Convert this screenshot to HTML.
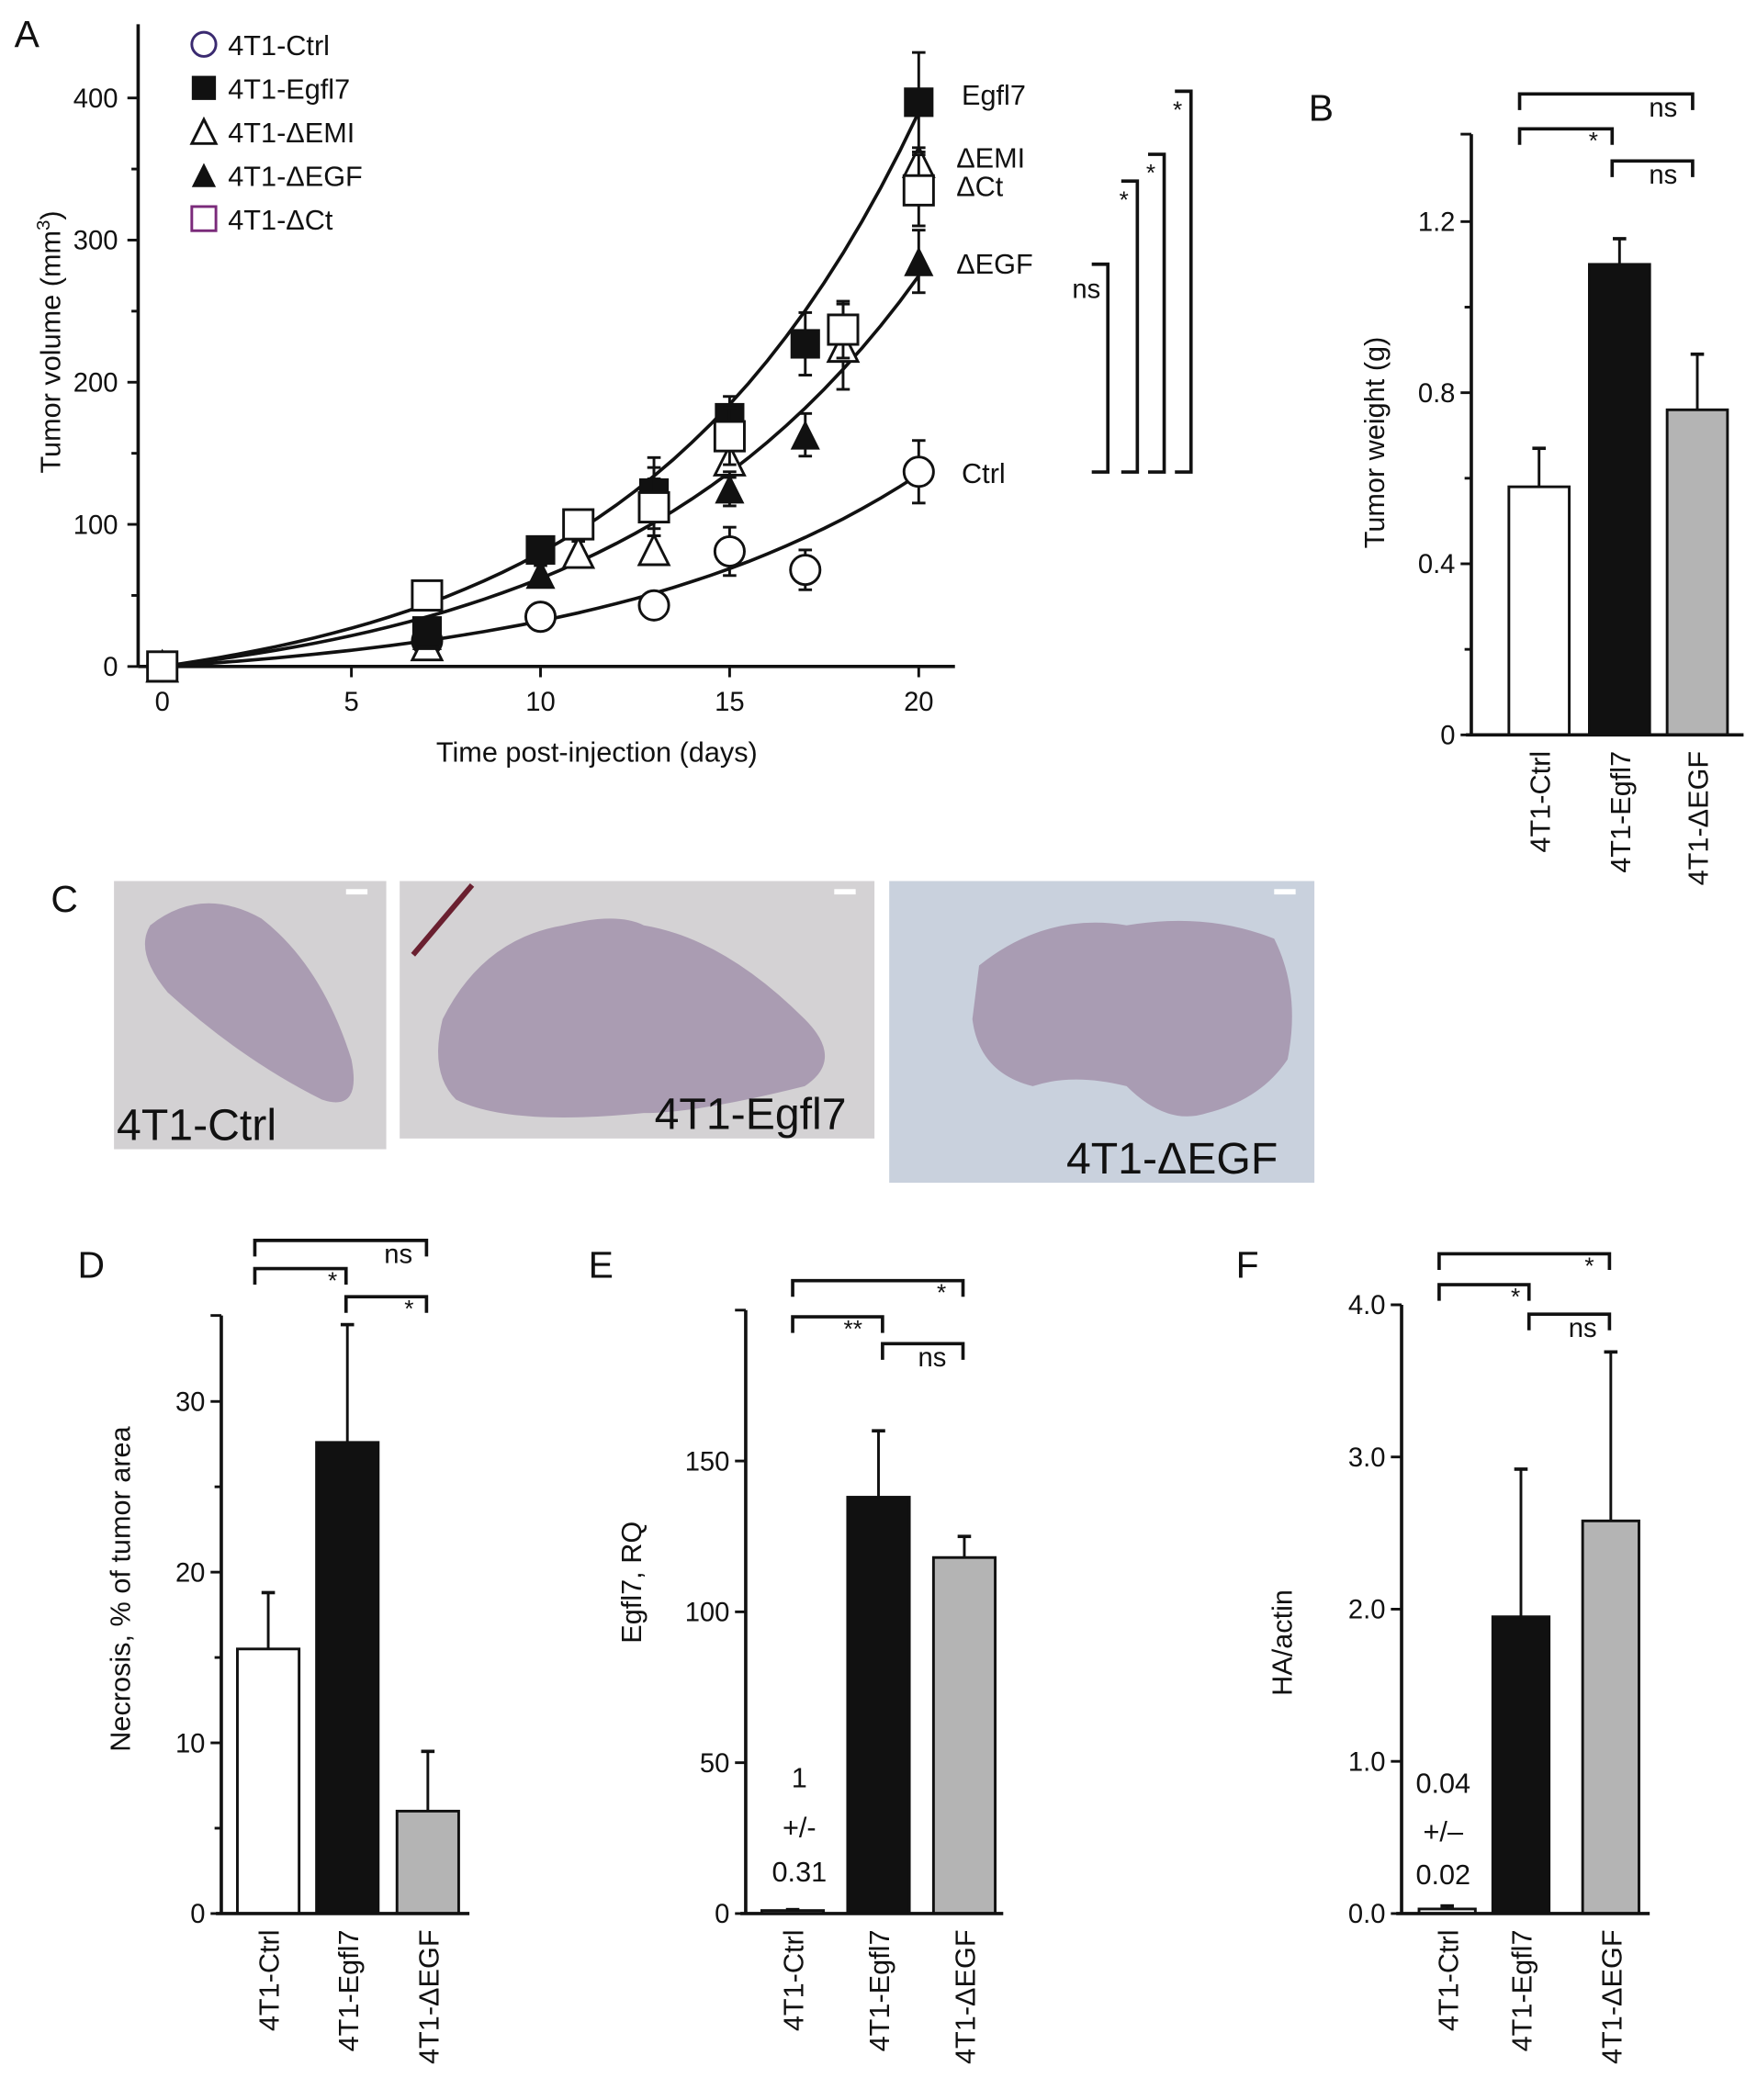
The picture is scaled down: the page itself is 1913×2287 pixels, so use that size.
<!DOCTYPE html>
<html><head><meta charset="utf-8"><style>
html,body{margin:0;padding:0;background:#fff}
svg{display:block}
text{font-family:"Liberation Sans",sans-serif;fill:#111}
</style></head><body>
<svg id="fig" width="1913" height="2287" viewBox="0 0 1310 1566" xmlns="http://www.w3.org/2000/svg">
<g id="root"></g>
</svg>
<script>
// ---------- Panel A data ----------
const aSeries = ['Ctrl','Egfl7','dEMI','dEGF','dCt'];
const ctrlDays = [0,7,10,13,15,17,20];
const ctrlVals = [0,18,35,43,81,68,137];
const ctrlErr = [0,4,5,5,17,14,22];
const egfl7Days = [0,7,10,13,15,17,20];
const egfl7Vals = [0,25,82,122,175,227,397];
const egfl7Err = [0,8,8,25,15,22,35];
const demiDays = [0,7,11,13,15,18,20];
const demiVals = [0,15,80,82,145,225,355];
const demiErr = [0,4,8,10,12,30,10];
const degfDays = [0,7,10,13,15,17,20];
const degfVals = [0,22,65,122,125,163,285];
const degfErr = [0,5,6,18,12,15,22];
const dctDays = [0,7,11,13,15,18,20];
const dctVals = [0,50,100,112,162,237,335];
const dctErr = [0,10,8,20,20,20,25];
const fitA = [27.8,25.5,14.4];   // exponential fit amplitudes
const fitB = [0.1355,0.1233,0.117];
const aXTicks = [0,5,10,15,20];
const aYTicks = [0,100,200,300,400];
// ---------- Panel B ----------
const bCats = ['4T1-Ctrl','4T1-Egfl7','4T1-ΔEGF'];
const bVals = [0.58,1.10,0.76];
const bErr = [0.09,0.06,0.13];
const bTicks = [0,0.4,0.8,1.2];
// ---------- Panel D ----------
const dVals = [15.5,27.6,6.0];
const dErr = [3.3,6.9,3.5];
const dTicks = [0,10,20,30];
// ---------- Panel E ----------
const eVals = [1,138,118];
const eErr = [0.3,22,7];
const eTicks = [0,50,100,150];
// ---------- Panel F ----------
const fVals = [0.03,1.95,2.58];
const fErr = [0.02,0.97,1.11];
const fTicks = ['0.0','1.0','2.0','3.0','4.0'];

const NS='http://www.w3.org/2000/svg';
const root=document.getElementById('root');
function mk(tag,attrs,parent){const e=document.createElementNS(NS,tag);for(const k in attrs)e.setAttribute(k,attrs[k]);(parent||root).appendChild(e);return e;}
function txt(x,y,s,size,anchor,parent,extra){const t=mk('text',Object.assign({x:x,y:y,'font-size':size,'text-anchor':anchor||'start'},extra||{}),parent);t.textContent=s;return t;}
function line(x1,y1,x2,y2,w,parent,col){return mk('line',{x1,y1,x2,y2,stroke:col||'#111','stroke-width':w||2},parent);}
function bracket(x1,x2,y,lbl,lx,parent){const p=mk('path',{d:`M${x1} ${y+12}V${y}H${x2}V${y+12}`,fill:'none',stroke:'#111','stroke-width':2.5},parent);

const t=txt(lx,y+(lbl==='ns'?17:15),lbl,lbl==='ns'?20:18,'middle',parent);}

// letters
[['A',20,35],['B',985,90],['C',48,680],['D',68,953],['E',448,953],['F',930,953]].forEach(l=>{const t=txt(l[1],l[2],l[0],28,'middle');});

// ===== Panel A =====
const gA=mk('g',{});
const ax=d=>121+d*28.2, ay=v=>497-v*1.06;
line(103,18,103,497,2.5,gA);
line(103,497,712,497,2.5,gA);
aYTicks.forEach(v=>{line(95,ay(v),103,ay(v),2,gA);const t=txt(88,ay(v)+7,String(v),20,'end',gA);});
[50,150,250,350].forEach(v=>line(98,ay(v),103,ay(v),2,gA));
aXTicks.forEach(d=>{line(ax(d),497,ax(d),505,2,gA);const t=txt(ax(d),530,String(d),20,'middle',gA);});
let t=txt(445,568,'Time post-injection (days)',21,'middle',gA);
t=mk('text',{x:0,y:0,'font-size':21,'text-anchor':'middle',transform:'translate(45,255) rotate(-90)'},gA);t.innerHTML='Tumor volume (mm<tspan dy="-8" font-size="14">3</tspan><tspan dy="8">)</tspan>';
// fit curves
for(let i=0;i<3;i++){let d='';for(let k=0;k<=40;k++){const x=k*0.5;const v=fitA[i]*(Math.exp(fitB[i]*x)-1);d+=(k?'L':'M')+ax(x).toFixed(1)+' '+ay(v).toFixed(1);}
const p=mk('path',{d:d,fill:'none',stroke:'#111','stroke-width':2.5},gA);}
function marker(type,x,y,g,sz){sz=sz||11;
 if(type==='circ')return mk('circle',{cx:x,cy:y,r:sz,fill:'#fff',stroke:'#111','stroke-width':2},g);
 if(type==='sqF')return mk('rect',{x:x-sz,y:y-sz,width:2*sz,height:2*sz,fill:'#111'},g);
 if(type==='sqO')return mk('rect',{x:x-sz,y:y-sz,width:2*sz,height:2*sz,fill:'#fff',stroke:'#111','stroke-width':2},g);
 if(type==='triO')return mk('path',{d:`M${x} ${y-sz}L${x+sz} ${y+sz}L${x-sz} ${y+sz}Z`,fill:'#fff',stroke:'#111','stroke-width':2},g);
 if(type==='triF')return mk('path',{d:`M${x} ${y-sz}L${x+sz} ${y+sz}L${x-sz} ${y+sz}Z`,fill:'#111'},g);}
const seriesDefs=[[ctrlDays,ctrlVals,ctrlErr,'circ','ctrl'],[demiDays,demiVals,demiErr,'triO','demi'],[degfDays,degfVals,degfErr,'triF','degf'],[egfl7Days,egfl7Vals,egfl7Err,'sqF','egfl7'],[dctDays,dctVals,dctErr,'sqO','dct']];
seriesDefs.forEach(s=>{const g=mk('g',{},gA);
 s[0].forEach((d,i)=>{const x=ax(d),y=ay(s[1][i]),e=s[2][i]*1.06;
  if(e>0){line(x,y-e,x,y+e,2,g);line(x-5,y-e,x+5,y-e,2,g);line(x-5,y+e,x+5,y+e,2,g);}
  const m=marker(s[3],x,y,g);});});
// legend
const legItems=[['circ','4T1-Ctrl'],['sqF','4T1-Egfl7'],['triO','4T1-ΔEMI'],['triF','4T1-ΔEGF'],['sqO','4T1-ΔCt']];
legItems.forEach((l,i)=>{const g=mk('g',{},gA);const y=33+i*32.5;
 const m=marker(l[0],152,y,g,9);if(i===0)m.setAttribute('stroke','#3a2a70');if(i===4)m.setAttribute('stroke','#7a2a7a');txt(170,y+8,l[1],21,'start',g);});
// end labels
[['Egfl7',717,78],['ΔEMI',713,125],['ΔCt',713,146],['ΔEGF',713,204],['Ctrl',717,360]].forEach(l=>{const t=txt(l[1],l[2],l[0],21,'start',gA);});
// right brackets
[[826,197,'ns'],[848,135,'*'],[868,115,'*'],[888,68,'*']].forEach(b=>{const p=mk('path',{d:`M${b[0]-12} ${b[1]}H${b[0]}V352H${b[0]-12}`,fill:'none',stroke:'#111','stroke-width':2.5},gA);
 const t=b[2]==='ns'?txt(810,222,'ns',20,'middle',gA):txt(b[0]-10,b[1]+20,'*',18,'middle',gA);});

// ===== bar chart helper =====
function barChart(name,cfg){const g=mk('g',{});
 const y=v=>cfg.y0-v*cfg.k;
 const fills=['#fff','#111','#b4b4b4'];
 cfg.vals.forEach((v,i)=>{const x=cfg.bx[i];const e=cfg.err[i];
  line(x+cfg.bw/2,y(v),x+cfg.bw/2,y(v+e),2,g);line(x+cfg.bw/2-5,y(v+e),x+cfg.bw/2+5,y(v+e),2.5,g);
  const r=mk('rect',{x:x,y:y(v),width:cfg.bw,height:cfg.y0-y(v),fill:fills[i],stroke:'#111','stroke-width':2},g);
  
  const t=txt(0,0,bCats[i],21,'end',g,{transform:`translate(${x+cfg.bw/2+8},${cfg.y0+12}) rotate(-90)`});});
 line(cfg.ax,cfg.top,cfg.ax,cfg.y0,2.5,g);
 line(cfg.ax-4,cfg.y0,cfg.xend,cfg.y0,2.5,g);
 line(cfg.ax-8,cfg.top,cfg.ax,cfg.top,2,g);
 cfg.ticks.forEach(tv=>{const v=parseFloat(tv);line(cfg.ax-8,y(v),cfg.ax,y(v),2,g);const t=txt(cfg.ax-12,y(v)+7,String(tv),20,'end',g);});
 cfg.minor.forEach(v=>line(cfg.ax-5,y(v),cfg.ax,y(v),2,g));
 const tt=txt(0,0,cfg.title,21,'middle',g,{transform:`translate(${cfg.tx},${cfg.ty}) rotate(-90)`});
 cfg.br.forEach(b=>bracket(b[0],b[1],b[2],b[3],b[4],g));
 return g;}

barChart('panel-b-tumor-weight',{vals:bVals,err:bErr,y0:548,k:319,bx:[1125,1185,1243],bw:45,ax:1097,top:100,xend:1300,ticks:bTicks,minor:[0.2,0.6,1.0],title:'Tumor weight (g)',tx:1032,ty:330,
 br:[[1133,1262,70,'ns',1240],[1133,1202,96,'*',1188],[1202,1262,120,'ns',1240]]});
barChart('panel-d-necrosis',{vals:dVals,err:dErr,y0:1427,k:12.73,bx:[177,236,296],bw:46,ax:165,top:981,xend:350,ticks:dTicks,minor:[5,15,25],title:'Necrosis, % of tumor area',tx:97,ty:1185,
 br:[[190,318,925,'ns',297],[190,258,946,'*',248],[258,318,967,'*',305]]});
const gE=barChart('panel-e-egfl7-rq',{vals:eVals,err:eErr,y0:1427,k:2.25,bx:[568,632,696],bw:46,ax:556,top:977,xend:748,ticks:eTicks,minor:[],title:'Egfl7, RQ',tx:478,ty:1180,
 br:[[591,718,955,'*',702],[591,658,982,'**',636],[658,718,1002,'ns',695]]});
[['1',1333],['+/-',1370],['0.31',1403]].forEach(a=>{const t=txt(596,a[1],a[0],21,'middle',gE);});
const gF=barChart('panel-f-ha-actin',{vals:fVals,err:fErr,y0:1427,k:113.5,bx:[1058,1113,1180],bw:42,ax:1045,top:973,xend:1230,ticks:fTicks,minor:[],title:'HA/actin',tx:963,ty:1225,
 br:[[1073,1140,958,'*',1130],[1073,1200,935,'*',1185],[1140,1200,980,'ns',1180]]});
[['0.04',1337],['+/–',1373],['0.02',1405]].forEach(a=>{const t=txt(1076,a[1],a[0],21,'middle',gF);});

// ===== Panel C histology images =====
const gC=mk('g',{});
function img(name,x,y,w,h,bg,shape,label,lx,ly){const g=mk('g',{},gC);
 mk('rect',{x,y,width:w,height:h,fill:bg},g);mk('path',{d:shape,fill:'#a596ae',opacity:0.9},g);
 mk('rect',{x:x+w-30,y:y+6,width:16,height:4,fill:'#fff'},g);
 const t=txt(lx,ly,label,33,'start',g);}
img('histology-ctrl',85,657,203,200,'#d3d1d3','M112 690 Q150 660 195 685 Q240 720 262 790 Q270 830 240 820 Q180 790 125 740 Q100 710 112 690Z','4T1-Ctrl',87,850);
img('histology-egfl7',298,657,354,192,'#d4d2d4','M330 760 Q360 700 420 690 Q460 680 480 690 Q540 700 600 760 Q630 790 600 810 Q520 830 480 830 Q380 840 340 820 Q320 800 330 760Z','4T1-Egfl7',488,842);
img('histology-degf',663,657,317,225,'#c9d1dd','M730 720 Q780 680 840 690 Q900 680 950 700 Q970 740 960 790 Q940 820 900 830 Q870 840 840 810 Q800 800 770 810 Q730 800 725 760Z','4T1-ΔEGF',795,875);
mk('path',{d:'M352 660 L308 712',stroke:'#6a2030','stroke-width':4,fill:'none'},gC);
</script>
</body></html>
